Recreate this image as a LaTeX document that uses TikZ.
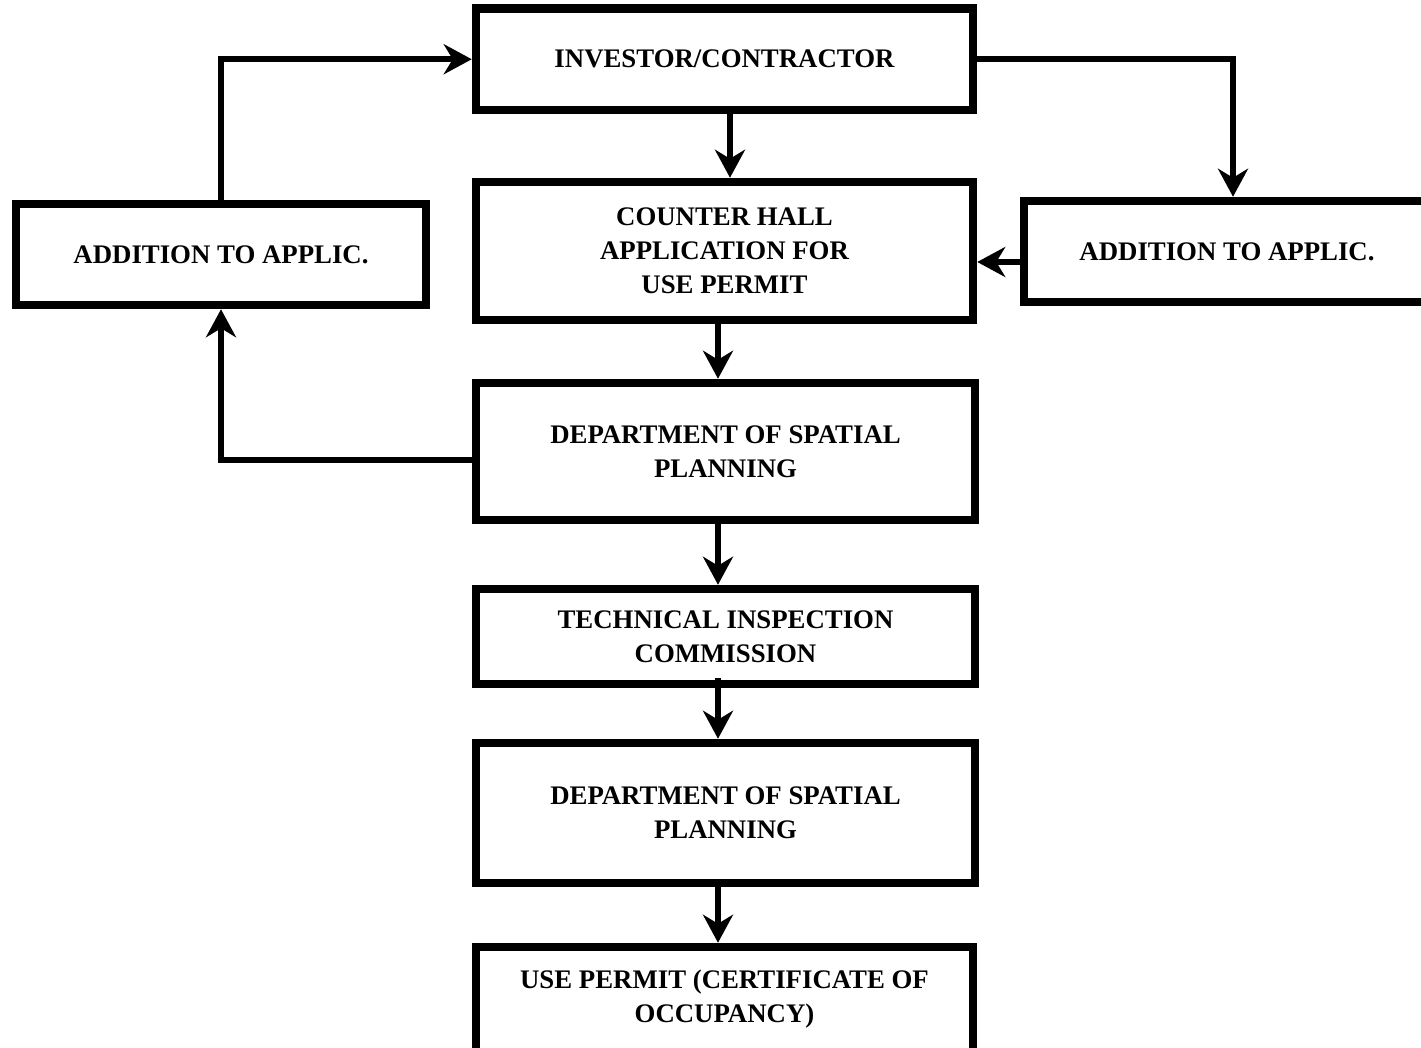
\documentclass[tikz,border=0pt]{standalone}
\usepackage{fontspec}
\setmainfont{Liberation Serif}
\usetikzlibrary{arrows.meta}
\begin{document}
\begin{tikzpicture}[x=1pt,y=-1pt,
  box/.style={draw=black,line width=8.5pt,inner sep=0pt,align=center,
    font=\fontsize{26.8}{34}\selectfont\bfseries},
  arr/.style={line width=5.5pt,-{Stealth[length=28pt,width=30pt,inset=9pt]}}]
\clip (0,0) rectangle (1421,1048);
\fill[white] (0,0) rectangle (1421,1048);
\node[box,minimum width=497pt,minimum height=101.5pt] (inv) at (724.5,59.25) {INVESTOR/CONTRACTOR};
\node[box,minimum width=497pt,minimum height=138pt] (counter) at (724.5,251) {COUNTER HALL\\APPLICATION FOR\\USE PERMIT};
\node[box,minimum width=499pt,minimum height=137pt] (dept1) at (725.5,451.5) {DEPARTMENT OF SPATIAL\\PLANNING};
\node[box,minimum width=499pt,minimum height=95pt] (tech) at (725.5,636.5) {TECHNICAL INSPECTION\\COMMISSION};
\node[box,minimum width=499pt,minimum height=140pt] (dept2) at (725.5,813) {DEPARTMENT OF SPATIAL\\PLANNING};
\node[box,minimum width=497pt,minimum height=105pt] (use) at (724.5,999.5) {USE PERMIT (CERTIFICATE OF\\OCCUPANCY)};
\node[box,minimum width=410pt,minimum height=101pt] (leftadd) at (221,254.5) {ADDITION TO APPLIC.};
\node[box,minimum width=406pt,minimum height=101pt] (rightadd) at (1227,251.5) {ADDITION TO APPLIC.};
% connectors
\draw[arr] (leftadd.north) |- (inv.west);
\coordinate (ri) at ([xshift=6pt]rightadd.north);
\draw[arr] (inv.east) -| (ri);
\coordinate (ic) at ([xshift=5.5pt]inv.south);
\draw[arr] (ic) -- (ic |- counter.north);
\coordinate (ra) at ([yshift=-10.5pt]rightadd.west);
\draw[arr] (ra) -- (ra -| counter.east);
\coordinate (c1) at ([xshift=-6.5pt]counter.south);
\draw[arr] (c1) -- (c1 |- dept1.north);
\coordinate (d1) at ([yshift=-8.5pt]dept1.west);
\draw[arr] (d1) -| (leftadd.south);
\coordinate (d1s) at ([xshift=-7.5pt]dept1.south);
\draw[arr] (d1s) -- (d1s |- tech.north);
\coordinate (ts) at ([xshift=-7.5pt,yshift=10pt]tech.south);
\draw[arr] (ts) -- (ts |- dept2.north);
\coordinate (d2s) at ([xshift=-7.5pt]dept2.south);
\draw[arr] (d2s) -- (d2s |- use.north);
\end{tikzpicture}
\end{document}
